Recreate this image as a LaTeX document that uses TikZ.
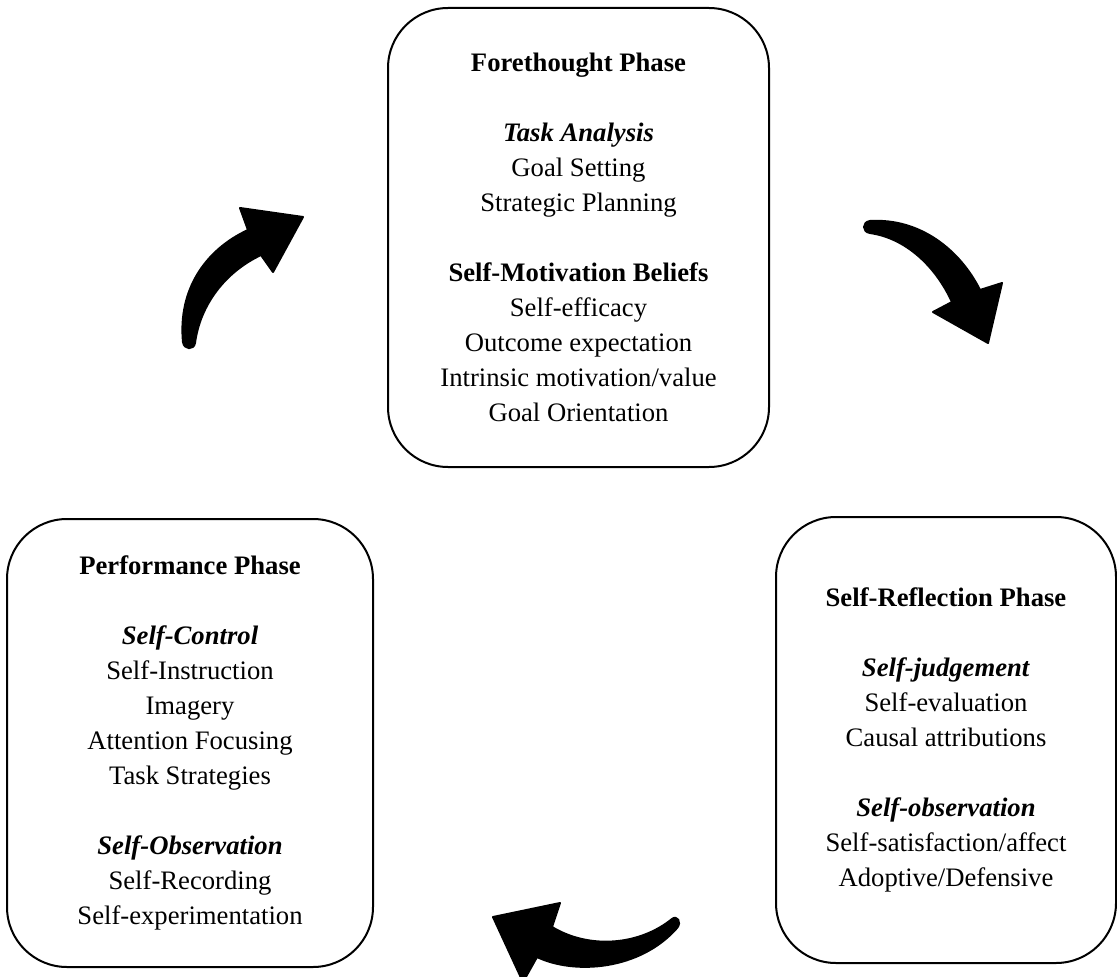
\documentclass[tikz,border=0pt]{standalone}
\usepackage{fontspec}
\setmainfont{Liberation Serif}
\begin{document}
\begin{tikzpicture}[x=0.75pt,y=-0.75pt,
  phasebox/.style={draw=black,line width=1.5pt,rounded corners=45pt,
    align=center,inner sep=0pt,
    font=\fontsize{20}{26.25}\selectfont},
  bigarrow/.style={fill=black,draw=black,line width=1.5pt,line join=round}]
\useasboundingbox (0,0) rectangle (1117,977);

\node[phasebox,minimum width=285.75pt,minimum height=344.25pt] (fore) at (578.5,237.5)
 {\textbf{Forethought Phase}\\[26.25pt]
  \textbf{\textit{Task Analysis}}\\
  Goal Setting\\
  Strategic Planning\\[26.25pt]
  \textbf{Self-Motivation Beliefs}\\
  Self-efficacy\\
  Outcome expectation\\
  Intrinsic motivation/value\\
  Goal Orientation};

\node[phasebox,minimum width=274.5pt,minimum height=336pt] (perf) at (190,743)
 {\textbf{Performance Phase}\\[26.25pt]
  \textbf{\textit{Self-Control}}\\
  Self-Instruction\\
  Imagery\\
  Attention Focusing\\
  Task Strategies\\[26.25pt]
  \textbf{\textit{Self-Observation}}\\
  Self-Recording\\
  Self-experimentation};

\node[phasebox,minimum width=255pt,minimum height=334.5pt] (refl) at (946,740)
 {\textbf{Self-Reflection Phase}\\[26.25pt]
  \textbf{\textit{Self-judgement}}\\
  Self-evaluation\\
  Causal attributions\\[26.25pt]
  \textbf{\textit{Self-observation}}\\
  Self-satisfaction/affect\\
  Adoptive/Defensive};

% arrow from performance to forethought (up-right)
\path[bigarrow] (183,342) .. controls (178,290) and (205,250) .. (248,230)
  -- (240,208) -- (303,217) -- (273,272) -- (261,255)
  .. controls (225,272) and (200,305) .. (195,343)
  .. controls (194,350) and (184,350) .. (183,342) -- cycle;

% arrow from forethought to self-reflection (down-right)
\path[bigarrow] (870,221) .. controls (920,218) and (960,250) .. (980,290)
  -- (1002,283) -- (988,343) -- (933,312) -- (952,302)
  .. controls (935,265) and (905,238) .. (870,233)
  .. controls (862,232) and (862,222) .. (870,221) -- cycle;

% arrow from self-reflection to performance (left)
\path[bigarrow] (672,919) .. controls (640,945) and (590,950) .. (552,927)
  -- (560,903) -- (493,917) -- (523,982) -- (537,957)
  .. controls (575,975) and (640,970) .. (677,928)
  .. controls (682,922) and (677,915) .. (672,919) -- cycle;
\end{tikzpicture}
\end{document}
